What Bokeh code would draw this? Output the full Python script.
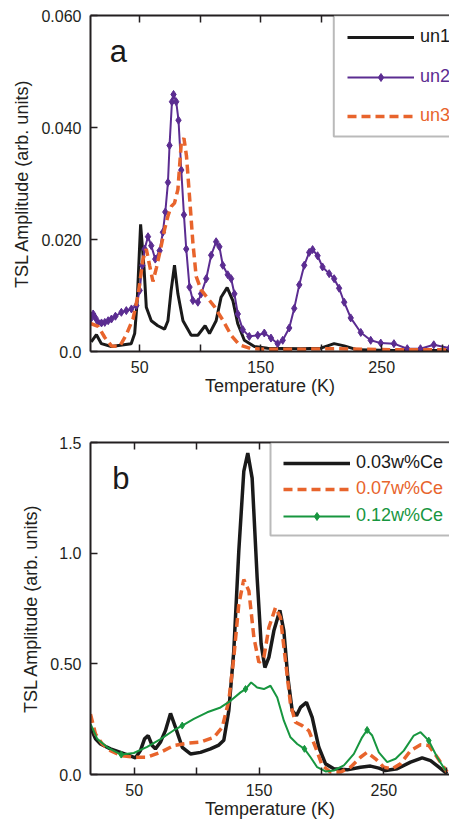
from bokeh.plotting import figure
from bokeh.layouts import column
from bokeh.models import (LinearAxis, FixedTicker, Legend, LegendItem,
                          BoxAnnotation, Label, Range1d)
from bokeh.embed import file_html
from bokeh.resources import INLINE

# ---------------- data: panel a ----------------
un1_T = [10, 14.3, 18.4, 26.6, 43, 45.9, 48, 50.8, 53.6, 55.5,
         59.6, 65, 70.6, 73.4, 76, 78.8, 81.6, 85.8, 92.6, 98.1,
         104.1, 107.7, 113.2, 117.3, 122.3, 127, 131, 136.5, 144.8, 155.7,
         183, 199.7, 210.7, 219, 230, 260, 306]
un1 = [0.0017, 0.003, 0.0014, 0.0009, 0.0014, 0.0032, 0.0091, 0.0227, 0.015, 0.0079,
       0.0055, 0.0046, 0.004, 0.0055, 0.0109, 0.0154, 0.0103, 0.0055, 0.0029, 0.0029,
       0.0046, 0.0032, 0.0055, 0.0097, 0.0114, 0.0091, 0.005, 0.002, 0.0009, 0.0006,
       0.0005, 0.0006, 0.0014, 0.001, 0.0003, 0.0002, 0.0002]

un2_T = [9.5, 11.6, 13.5, 15.7, 18.5, 21.2, 24, 26.7, 30, 34.9,
         39, 43.2, 47.3, 50, 52.2, 54.1, 56.9, 59.6, 62.9, 66.5,
         69.2, 71.2, 73.4, 74.7, 76.7, 78, 80.2, 82.1, 84.4, 86.6,
         88.5, 91.2, 94, 98.1, 100.8, 105, 109.1, 113.2, 115.9, 118.7,
         122.8, 125.6, 128.3, 131.1, 135.2, 140.6, 147.6, 153, 158.5, 164,
         168.2, 173.6, 177.7, 181.9, 186, 190.1, 192.9, 197, 201.1, 206.6,
         210.7, 214.8, 219, 224.4, 232.7, 240.9, 249.2, 260.1, 271.1, 282,
         293, 306]
un2 = [0.0058, 0.0067, 0.006, 0.0052, 0.0051, 0.0052, 0.0055, 0.0058, 0.0063, 0.007,
       0.0073, 0.0076, 0.0082, 0.0109, 0.0154, 0.0183, 0.0205, 0.0189, 0.0165, 0.018,
       0.0213, 0.0249, 0.0302, 0.0368, 0.0446, 0.0459, 0.0446, 0.0413, 0.0324, 0.0244,
       0.0183, 0.0115, 0.0091, 0.0088, 0.0103, 0.013, 0.0172, 0.0196, 0.0187, 0.0154,
       0.0137, 0.013, 0.0103, 0.0067, 0.0039, 0.0027, 0.0029, 0.0033, 0.0024, 0.0014,
       0.002, 0.0042, 0.0077, 0.0119, 0.0154, 0.0177, 0.0182, 0.0171, 0.0151, 0.0139,
       0.013, 0.0113, 0.0088, 0.006, 0.0034, 0.002, 0.0015, 0.0014, 0.0005, 0.0005,
       0.0012, 0.0006]

un3_T = [9.5, 15.7, 21.2, 26.7, 33.5, 39, 44.6, 48.7, 52.8, 55.5,
         58.2, 61, 63.8, 67.3, 70.6, 73.4, 76.1, 78.8, 81.6, 84.4,
         86.6, 88.7, 91.2, 94, 96.7, 100.8, 106.3, 111.8, 118.7, 125.6,
         132.4, 142, 155.8, 183, 210.7, 238.2, 265.6, 293, 306]
un3 = [0.005, 0.0045, 0.0025, 0.001, 0.0009, 0.003, 0.0059, 0.0101, 0.0165, 0.0183,
       0.0154, 0.0125, 0.0149, 0.0183, 0.0218, 0.0242, 0.0259, 0.0265, 0.0289, 0.0372,
       0.0381, 0.0349, 0.0277, 0.0194, 0.0134, 0.011, 0.0095, 0.008, 0.0056, 0.0029,
       0.0012, 0.0005, 0.0004, 0.0004, 0.0005, 0.0004, 0.0003, 0.0003, 0.0003]

a_yticks = [0, 0.02, 0.04, 0.06]
a_ylabels = ["0.0", "0.020", "0.040", "0.060"]

# ---------------- data: panel b ----------------
c03_T = [15, 19, 23, 31, 39, 45.7, 51, 55, 58.3, 61.2,
         64.4, 67, 71, 75, 79.1, 83.1, 88.5, 95.1, 103.1, 111.1,
         117.8, 121.8, 125.8, 129.8, 133.8, 137.8, 141, 144.5, 148.5, 151.7,
         154.7, 157.9, 161.9, 166.7, 169.9, 173.1, 176.6, 180, 183.2, 188,
         192.6, 197.9, 203.3, 209.9, 220.6, 231.3, 239.3, 246, 251.3, 260.7,
         271.4, 280.7, 287.4, 294.1, 300.7]
c03 = [0.213, 0.161, 0.138, 0.116, 0.1, 0.086, 0.075, 0.108, 0.161, 0.176,
       0.131, 0.116, 0.146, 0.198, 0.276, 0.213, 0.123, 0.093, 0.1, 0.116,
       0.133, 0.155, 0.288, 0.559, 1.009, 1.369, 1.452, 1.339, 0.889, 0.589,
       0.483, 0.529, 0.649, 0.742, 0.649, 0.438, 0.288, 0.266, 0.303, 0.326,
       0.258, 0.123, 0.048, 0.026, 0.021, 0.033, 0.038, 0.029, 0.018, 0.026,
       0.056, 0.075, 0.063, 0.033, 0.003]

c07_T = [15, 19, 24.4, 31, 39, 49.7, 60.4, 71, 81.8, 92.5,
         103.1, 113.8, 120.5, 125.8, 129.8, 133.8, 137.8, 141.9, 145.9, 149.9,
         153.9, 157.9, 163.2, 167.2, 171.2, 175.2, 179.2, 184.6, 189.9, 195.3,
         200.6, 207.3, 215.3, 223.3, 231.3, 236.6, 243.3, 250, 256.7, 263.3,
         271.4, 279.4, 286, 292.7, 300.7]
c07 = [0.273, 0.183, 0.138, 0.108, 0.086, 0.078, 0.078, 0.1, 0.131, 0.141,
       0.146, 0.168, 0.213, 0.333, 0.529, 0.769, 0.881, 0.829, 0.619, 0.506,
       0.529, 0.664, 0.754, 0.709, 0.514, 0.318, 0.236, 0.221, 0.198, 0.123,
       0.041, 0.011, 0.011, 0.033, 0.078, 0.1, 0.071, 0.033, 0.026, 0.048,
       0.108, 0.134, 0.131, 0.078, 0.011]

c12_T = [15, 20.4, 28.4, 39.6, 49.7, 60.4, 71.1, 81.8, 88.5, 97.8,
         108.5, 119.2, 127.2, 135.2, 139.2, 143.7, 148.5, 153.9, 159.2, 164.6,
         169.9, 175.2, 180.6, 186.4, 191.3, 196.6, 203.3, 209.9, 218, 226,
         232.6, 236.6, 240.7, 246, 252.7, 259.4, 266, 274, 279.4, 286,
         292.7, 299.4]
c12 = [0.228, 0.161, 0.123, 0.09, 0.097, 0.125, 0.16, 0.2, 0.221, 0.251,
       0.281, 0.303, 0.333, 0.371, 0.386, 0.416, 0.393, 0.386, 0.401, 0.348,
       0.243, 0.168, 0.138, 0.116, 0.078, 0.033, 0.014, 0.018, 0.041, 0.093,
       0.168, 0.201, 0.176, 0.1, 0.056, 0.071, 0.108, 0.176, 0.191, 0.153,
       0.078, 0.018]
c12_marker_idx = [3, 8, 14, 23, 31, 39]

b_yticks = [0, 0.5, 1.0, 1.5]
b_ylabels = ["0.0", "0.50", "1.0", "1.5"]

x_major = [50, 150, 250]
x_minor = [100, 200, 300]

# ---------------- style ----------------
FONT = "Liberation Sans"
INK = "#231f20"
BLACK = "#1a1a1a"
PURPLE = "#5b2c91"
ORANGE = "#e8642c"
GREEN = "#17963f"


def style_axes(p, yticks, ylabels):
    p.outline_line_color = None
    p.grid.visible = False
    # top frame edge: an axis with tick marks only (no labels)
    top = LinearAxis(ticker=FixedTicker(ticks=[], minor_ticks=x_major + x_minor),
                     axis_label=None)
    p.add_layout(top, "above")
    for ax in p.xaxis:
        ax.major_tick_in = 7
        ax.major_tick_out = 0
        ax.minor_tick_in = 7
        ax.minor_tick_out = 0
        ax.axis_line_width = 2
        ax.axis_line_color = INK
        ax.major_tick_line_color = INK
        ax.minor_tick_line_color = INK
        ax.major_tick_line_width = 1.5
        ax.minor_tick_line_width = 1.5
        ax.major_label_text_font = FONT
        ax.major_label_text_font_size = "16px"
        ax.major_label_text_color = INK
        ax.axis_label_text_font = FONT
        ax.axis_label_text_font_size = "18px"
        ax.axis_label_text_font_style = "normal"
        ax.axis_label_text_color = INK
    b = p.below[0]
    b.ticker = FixedTicker(ticks=x_major, minor_ticks=x_minor)
    b.axis_label = "Temperature (K)"
    b.major_label_standoff = 9
    b.axis_label_standoff = 0
    top.major_label_standoff = 0

    y = p.yaxis[0]
    y.ticker = FixedTicker(ticks=yticks)
    y.major_label_overrides = dict(zip(yticks, ylabels))
    y.minor_tick_line_color = None
    y.major_tick_in = 7
    y.major_tick_out = 0
    y.axis_line_width = 2
    y.axis_line_color = INK
    y.major_tick_line_color = INK
    y.major_tick_line_width = 1.5
    y.major_label_standoff = 9
    y.major_label_text_font = FONT
    y.major_label_text_font_size = "16px"
    y.major_label_text_color = INK
    y.axis_label = "TSL Amplitude (arb. units)"
    y.axis_label_text_font = FONT
    y.axis_label_text_font_size = "18px"
    y.axis_label_text_font_style = "normal"
    y.axis_label_text_color = INK
    y.axis_label_standoff = 6


def add_item(p, renderers, label, color, loc):
    leg = Legend(items=[LegendItem(label=label, renderers=renderers)],
                 location=loc, orientation="vertical", padding=0, margin=0,
                 spacing=0, glyph_width=67, glyph_height=20, label_height=20,
                 label_standoff=6, label_text_font=FONT,
                 label_text_font_size="18px", label_text_color=color,
                 border_line_color=None, background_fill_alpha=0)
    p.add_layout(leg)


# ---------------- panel a ----------------
pa = figure(width=449, height=410, x_range=Range1d(9.4, 306), y_range=Range1d(0, 0.06),
            output_backend="svg", toolbar_location=None,
            min_border_left=89, min_border_right=0, min_border_top=15, min_border_bottom=59)
style_axes(pa, a_yticks, a_ylabels)

r1 = pa.line(un1_T, un1, line_color=BLACK, line_width=3)
r2l = pa.line(un2_T, un2, line_color=PURPLE, line_width=2)
r2m = pa.scatter(un2_T, un2, marker="diamond", size=8, fill_color=PURPLE, line_color=PURPLE)
r3 = pa.line(un3_T, un3, line_color=ORANGE, line_width=3.5, line_dash="9 5")

pa.add_layout(BoxAnnotation(left=210.4, right=330, bottom=0.0384, top=0.06,
                            fill_color="white", fill_alpha=1,
                            line_color=BLACK, line_width=2))
add_item(pa, [r1], "un1", BLACK, (257, 304))
add_item(pa, [r2l, r2m], "un2", PURPLE, (257, 264))
add_item(pa, [r3], "un3", ORANGE, (257, 225))
pa.add_layout(Label(x=25.3, y=0.0536, text="a", text_font=FONT, text_font_size="31px",
                    text_color=BLACK, text_baseline="alphabetic"))

# ---------------- panel b ----------------
pb = figure(width=449, height=411, x_range=Range1d(15, 302.6), y_range=Range1d(0, 1.5),
            output_backend="svg", toolbar_location=None,
            min_border_left=90, min_border_right=0, min_border_top=32, min_border_bottom=47)
style_axes(pb, b_yticks, b_ylabels)

s1 = pb.line(c03_T, c03, line_color=BLACK, line_width=3.5)
s2 = pb.line(c07_T, c07, line_color=ORANGE, line_width=3.5, line_dash="9 5")
s3l = pb.line(c12_T, c12, line_color=GREEN, line_width=2)
s3m = pb.scatter([c12_T[i] for i in c12_marker_idx], [c12[i] for i in c12_marker_idx],
                 marker="diamond", size=7, fill_color=GREEN, line_color=GREEN)

pb.add_layout(BoxAnnotation(left=159.2, right=330, bottom=1.0798, top=1.5,
                            fill_color="white", fill_alpha=1,
                            line_color=BLACK, line_width=2))
add_item(pb, [s1], "0.03w%Ce", BLACK, (193, 301))
add_item(pb, [s2], "0.07w%Ce", ORANGE, (193, 275))
add_item(pb, [s3l, s3m], "0.12w%Ce", GREEN, (193, 248))
pb.add_layout(Label(x=32.4, y=1.337, text="b", text_font=FONT, text_font_size="31px",
                    text_color=BLACK, text_baseline="alphabetic"))

layout = column(pa, pb, spacing=0)
open("out.html", "w").write(file_html(layout, INLINE))
